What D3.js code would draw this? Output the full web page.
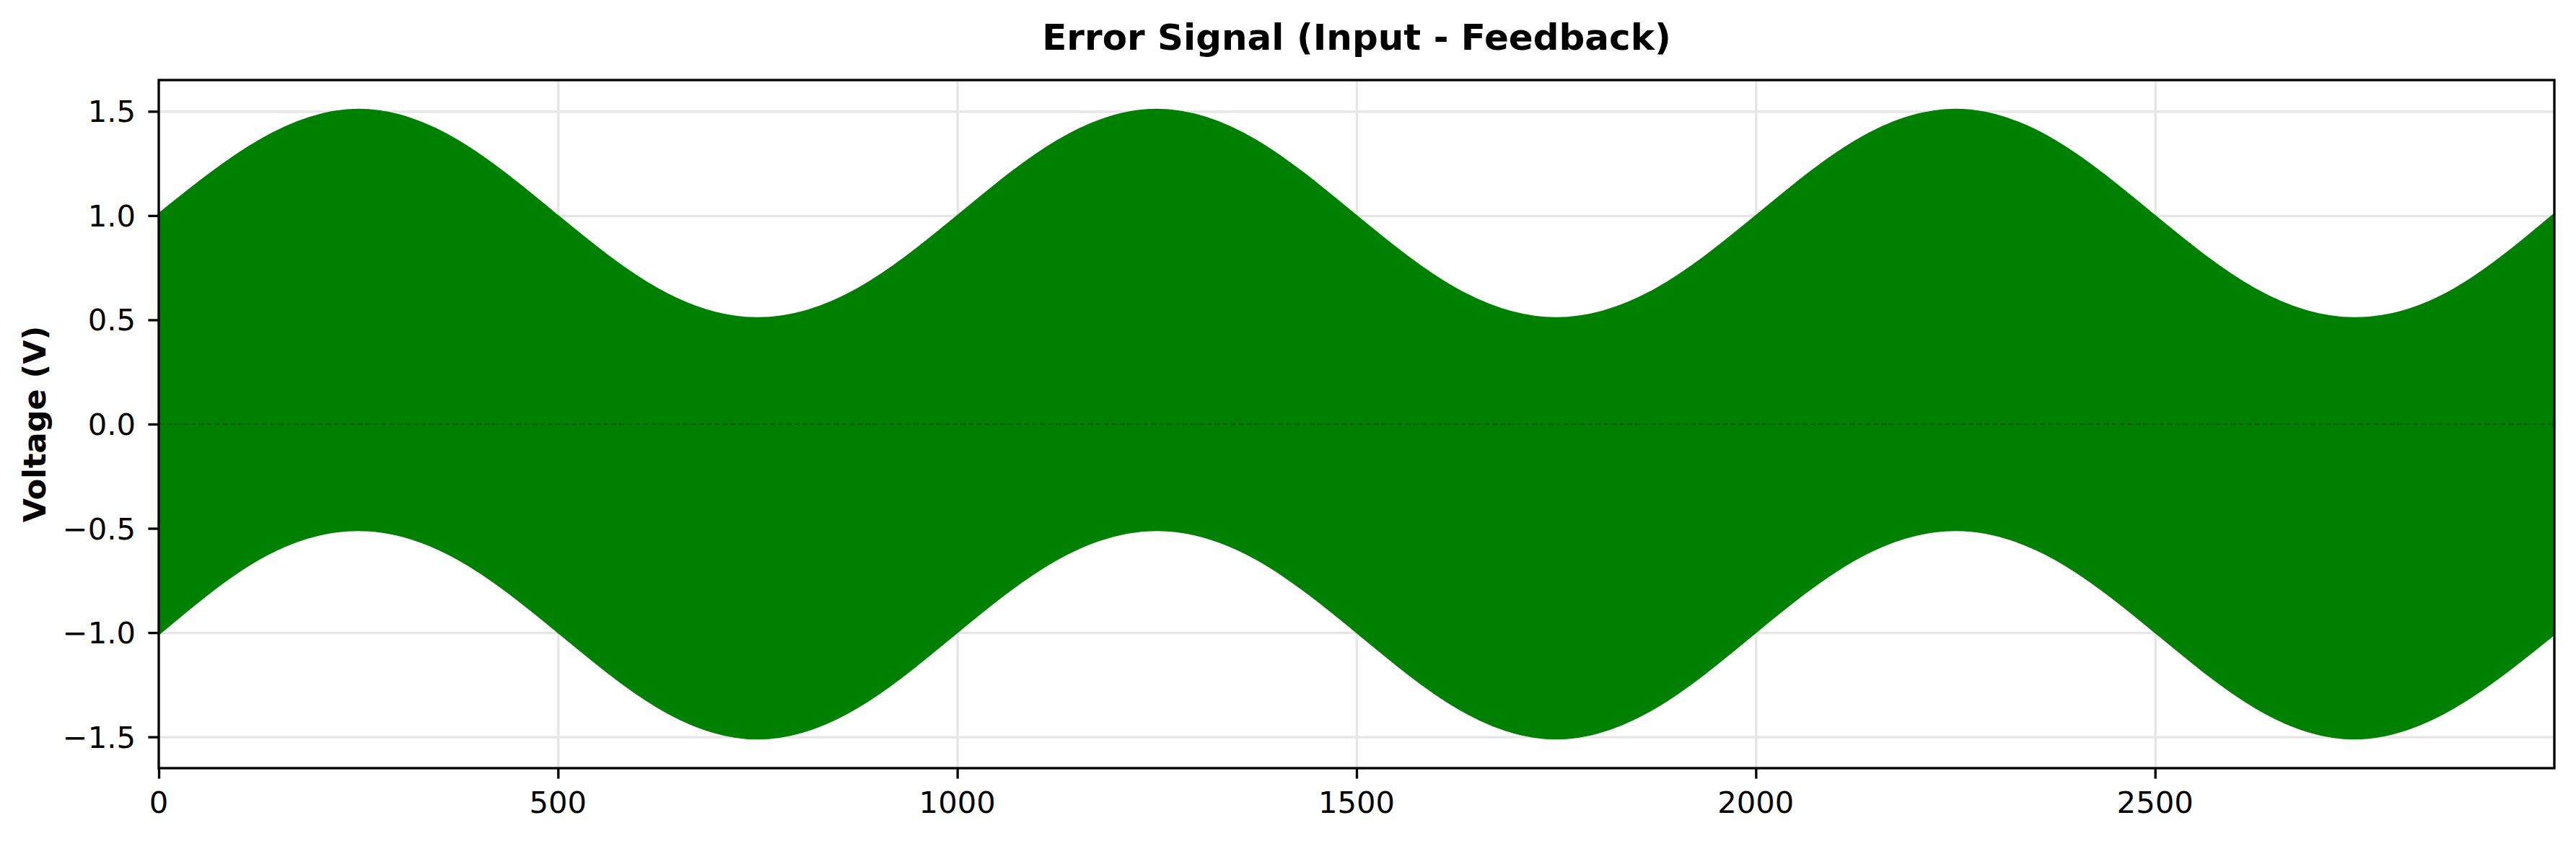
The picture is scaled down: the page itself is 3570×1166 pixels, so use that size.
<!DOCTYPE html>
<html>
<head>
<meta charset="utf-8">
<script src="https://cdn.jsdelivr.net/npm/d3@7"></script>
<style>
  html, body { margin: 0; padding: 0; background: #fff; }
  svg { display: block; font-family: "DejaVu Sans", sans-serif; }
</style>
</head>
<body>
<svg id="chart"></svg>
<script>
// Envelope of the error signal, every 125 samples
const sampleIdx = [0, 125, 250, 375, 500, 625, 750, 875, 1000, 1125, 1250, 1375, 1500,
  1625, 1750, 1875, 2000, 2125, 2250, 2375, 2500, 2625, 2750, 2875, 3000];
const upperEnv = [1.01, 1.36, 1.51, 1.36, 1.0, 0.65, 0.51, 0.65, 1.0, 1.36, 1.51, 1.36, 1.0,
  0.65, 0.51, 0.65, 1.0, 1.36, 1.51, 1.36, 1.0, 0.65, 0.51, 0.65, 1.01];
const lowerEnv = [-1.01, -0.65, -0.51, -0.65, -1.0, -1.36, -1.51, -1.36, -1.0, -0.65, -0.51, -0.65, -1.0,
  -1.36, -1.51, -1.36, -1.0, -0.65, -0.51, -0.65, -1.0, -1.36, -1.51, -1.36, -1.01];

const xTicks = [0, 500, 1000, 1500, 2000, 2500];
const yTicks = [-1.5, -1.0, -0.5, 0.0, 0.5, 1.0, 1.5];

const width = 3570, height = 1166;
const margin = { top: 111, right: 30, bottom: 101, left: 220 };
const innerWidth = width - margin.left - margin.right;
const innerHeight = height - margin.top - margin.bottom;

const svg = d3.select('#chart')
  .attr('width', width)
  .attr('height', height)
  .attr('viewBox', `0 0 ${width} ${height}`);

const g = svg.append('g').attr('transform', `translate(${margin.left}, ${margin.top})`);

const xScale = d3.scaleLinear().domain([0, 3000]).range([0, innerWidth]);
const yScale = d3.scaleLinear().domain([-1.65, 1.65]).range([innerHeight, 0]);

const tickLen = 14.6, lw = 3.33;
const fmt = d => d3.format('.1f')(d).replace('-', '\u2212');

// Grid
g.append('g')
  .call(d3.axisLeft(yScale).tickValues(yTicks).tickSize(-innerWidth).tickFormat(''))
  .call(a => a.select('.domain').remove())
  .selectAll('line').attr('stroke', '#e6e6e6').attr('stroke-width', lw);
g.append('g')
  .attr('transform', `translate(0, ${innerHeight})`)
  .call(d3.axisBottom(xScale).tickValues(xTicks).tickSize(-innerHeight).tickFormat(''))
  .call(a => a.select('.domain').remove())
  .selectAll('line').attr('stroke', '#e6e6e6').attr('stroke-width', lw);

// Signal band
const points = sampleIdx.map((x, i) => ({ x, hi: upperEnv[i], lo: lowerEnv[i] }));
const area = d3.area()
  .x(d => xScale(d.x))
  .y0(d => yScale(d.lo))
  .y1(d => yScale(d.hi))
  .curve(d3.curveNatural);
g.append('path')
  .datum(points)
  .attr('fill', '#008000')
  .attr('stroke', '#008000')
  .attr('stroke-width', 1.5)
  .attr('d', area);

// Zero reference line
g.append('line')
  .attr('x1', 0).attr('x2', innerWidth)
  .attr('y1', yScale(0)).attr('y2', yScale(0))
  .attr('stroke', '#000')
  .attr('stroke-opacity', 0.3)
  .attr('stroke-width', 2.1)
  .attr('stroke-dasharray', '7.7 3.3');

// Axes (tick marks from d3 axes, labels placed with the same scales)
const yAxis = g.append('g')
  .call(d3.axisLeft(yScale).tickValues(yTicks).tickSize(tickLen).tickFormat(''));
const xAxis = g.append('g')
  .attr('transform', `translate(0, ${innerHeight})`)
  .call(d3.axisBottom(xScale).tickValues(xTicks).tickSize(tickLen).tickFormat(''));
[yAxis, xAxis].forEach(a => {
  a.select('.domain').remove();
  a.selectAll('line').attr('stroke', '#000').attr('stroke-width', lw);
});

svg.append('g').selectAll('text')
  .data(yTicks)
  .join('text')
  .attr('x', margin.left - 32)
  .attr('y', d => margin.top + yScale(d))
  .attr('dy', '0.36em')
  .attr('text-anchor', 'end')
  .attr('font-size', '41.7px')
  .text(fmt);

svg.append('g').selectAll('text')
  .data(xTicks)
  .join('text')
  .attr('x', d => margin.left + xScale(d))
  .attr('y', 1127)
  .attr('text-anchor', 'middle')
  .attr('font-size', '41.7px')
  .text(d3.format('d'));

// Frame
g.append('rect')
  .attr('width', innerWidth).attr('height', innerHeight)
  .attr('fill', 'none').attr('stroke', '#000').attr('stroke-width', lw);

// Title
svg.append('text')
  .attr('x', margin.left + innerWidth / 2)
  .attr('y', 69)
  .attr('text-anchor', 'middle')
  .attr('font-size', '50px')
  .attr('font-weight', 'bold')
  .text('Error Signal (Input - Feedback)');

// Y label
svg.append('text')
  .attr('transform', `translate(63, ${margin.top + innerHeight / 2}) rotate(-90)`)
  .attr('text-anchor', 'middle')
  .attr('font-size', '43px')
  .attr('font-weight', 'bold')
  .text('Voltage (V)');
</script>
</body>
</html>
